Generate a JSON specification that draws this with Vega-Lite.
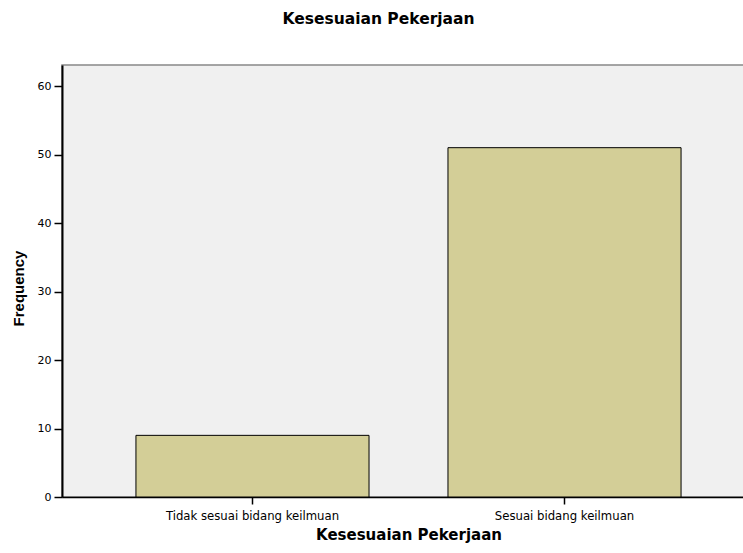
{
  "$schema": "https://vega.github.io/schema/vega-lite/v6.json",
  "autosize": {"type": "none"},
  "width": 693,
  "height": 432,
  "padding": {"left": 62, "top": 65, "right": 0, "bottom": 56},
  "background": "white",
  "title": {
    "text": "Kesesuaian Pekerjaan",
    "font": "DejaVu Sans",
    "fontSize": 15.5,
    "fontWeight": "bold",
    "color": "#000000",
    "anchor": "middle",
    "frame": "group",
    "baseline": "alphabetic",
    "offset": 26,
    "dx": -30
  },
  "data": {
    "values": [
      {"kategori": "Tidak sesuai bidang keilmuan", "frequency": 9},
      {"kategori": "Sesuai bidang keilmuan", "frequency": 51}
    ]
  },
  "mark": {"type": "bar", "color": "#d3ce97", "stroke": "#000000", "strokeWidth": 1},
  "encoding": {
    "x": {
      "field": "kategori",
      "type": "nominal",
      "sort": null,
      "scale": {"paddingInner": 0.253, "paddingOuter": 0.237},
      "axis": {
        "title": "Kesesuaian Pekerjaan",
        "titleFont": "DejaVu Sans",
        "titleFontSize": 15,
        "titleFontWeight": "bold",
        "titleColor": "#000000",
        "titleBaseline": "alphabetic",
        "titleY": 42,
        "labelAngle": 0,
        "labelFont": "DejaVu Sans",
        "labelFontSize": 11.7,
        "labelColor": "#000000",
        "labelPadding": 6,
        "tickSize": 7,
        "tickColor": "#000000",
        "tickWidth": 1.5,
        "domainColor": "#000000",
        "domainWidth": 1.5
      }
    },
    "y": {
      "field": "frequency",
      "type": "quantitative",
      "scale": {"domain": [0, 63.07], "nice": false},
      "axis": {
        "title": "Frequency",
        "titleFont": "Liberation Sans",
        "titleFontSize": 15,
        "titleFontWeight": "bold",
        "titleColor": "#000000",
        "titleAngle": -90,
        "titleBaseline": "alphabetic",
        "titleAlign": "center",
        "titleX": -39,
        "titleY": 223,
        "values": [0, 10, 20, 30, 40, 50, 60],
        "grid": false,
        "labelFont": "DejaVu Sans",
        "labelFontSize": 11,
        "labelColor": "#000000",
        "labelPadding": 3,
        "tickSize": 8,
        "tickColor": "#000000",
        "tickWidth": 1.5,
        "domainColor": "#000000",
        "domainWidth": 2
      }
    }
  },
  "config": {
    "view": {"fill": "#f0f0f0", "stroke": "#888888", "strokeWidth": 1.5}
  }
}
